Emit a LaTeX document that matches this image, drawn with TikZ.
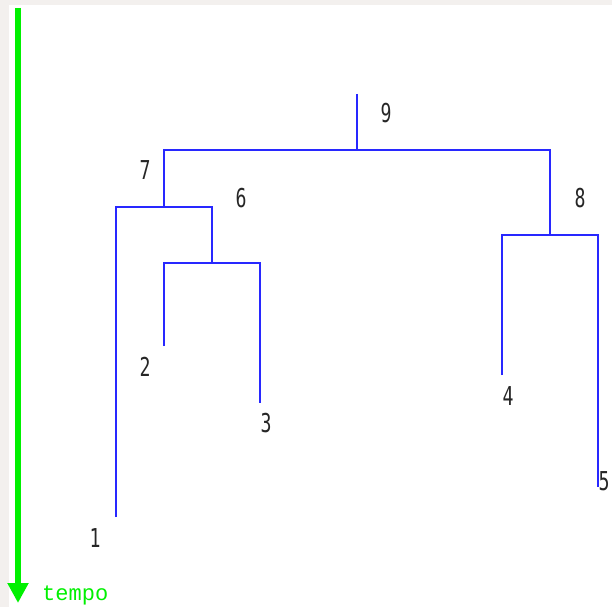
\documentclass[tikz,border=0pt]{standalone}
\usepackage{fontspec}
\newfontfamily\digitfont{DejaVu Sans Mono}
\newfontfamily\tempofont{Liberation Mono}
\usetikzlibrary{arrows.meta}
\definecolor{treeblue}{RGB}{40,40,255}
\definecolor{timegreen}{RGB}{0,240,0}
\definecolor{framebg}{RGB}{243,240,238}
\tikzset{
  branch/.style={draw=treeblue, line width=1.8pt},
  lbl/.style={inner sep=0pt, font=\digitfont\fontsize{26}{26}\selectfont, text=black!85, xscale=0.7},
  timeaxis/.style={draw=timegreen, line width=6pt, -{Triangle[width=20pt,length=20pt]}},
}
\begin{document}
\begin{tikzpicture}[x=1pt,y=-1pt]
  \fill[framebg] (0,0) rectangle (612,607);
  \fill[white] (9,5) rectangle (612,607);
  \useasboundingbox (0,0) rectangle (612,607);

  % time axis
  \coordinate (t0) at (18,8);
  \coordinate (t1) at (18,603);
  \draw[timeaxis] (t0) -- (t1);
  \node[inner sep=0pt, anchor=base west, text=timegreen, font=\tempofont\fontsize{22}{22}\selectfont] (tempo) at (42,600) {tempo};

  % join points
  \coordinate (r9) at (357,94);
  \coordinate (j9) at (357,150);
  \coordinate (a7) at (164,150);
  \coordinate (a8) at (550,150);
  \coordinate (j7) at (164,207);
  \coordinate (b1) at (116,207);
  \coordinate (b6) at (212,207);
  \coordinate (j6) at (212,263);
  \coordinate (c2) at (164,263);
  \coordinate (c3) at (260,263);
  \coordinate (j8) at (550,235);
  \coordinate (d4) at (502,235);
  \coordinate (d5) at (598,235);
  % leaves
  \coordinate (l1) at (116,517);
  \coordinate (l2) at (164,346);
  \coordinate (l3) at (260,403);
  \coordinate (l4) at (502,375);
  \coordinate (l5) at (598,487);

  \draw[branch] (r9) -- (j9);
  \draw[branch] (l1) -- (b1) -- (b6) -- (j6);
  \draw[branch] (j7) -- (a7) -- (a8) -- (j8);
  \draw[branch] (l2) -- (c2) -- (c3) -- (l3);
  \draw[branch] (l4) -- (d4) -- (d5) -- (l5);

  % labels
  \node[lbl] (n9) at (386,113) {9};
  \node[lbl] (n7) at (145,170) {7};
  \node[lbl] (n6) at (241,198) {6};
  \node[lbl] (n8) at (580,198) {8};
  \node[lbl] (n2) at (145,367) {2};
  \node[lbl] (n3) at (266,423) {3};
  \node[lbl] (n4) at (508,396) {4};
  \node[lbl] (n5) at (604,481) {5};
  \node[lbl] (n1) at (95,538) {1};
\end{tikzpicture}
\end{document}
